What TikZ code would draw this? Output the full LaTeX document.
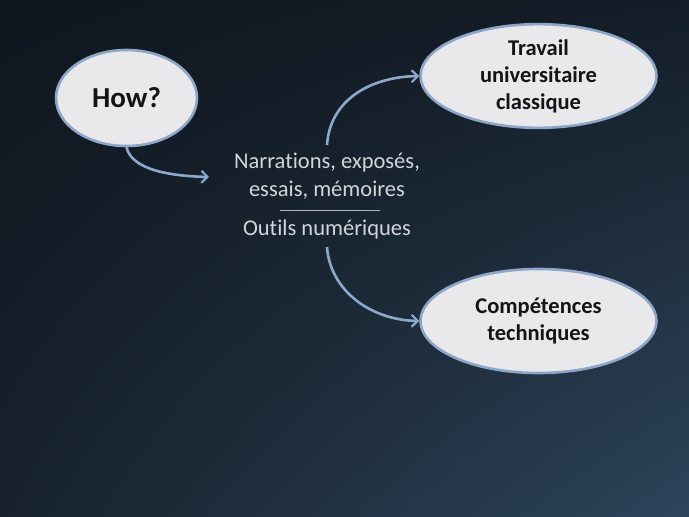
\documentclass[tikz,border=0pt]{standalone}
\usepackage{fontspec}
\setmainfont[Ligatures={NoCommon}]{Carlito}
\usetikzlibrary{arrows.meta,shapes.geometric,shadings}
\definecolor{bgUL}{HTML}{0F161E}
\definecolor{bgUR}{HTML}{141D27}
\definecolor{bgLL}{HTML}{17222D}
\definecolor{bgLR}{HTML}{2D445B}
\definecolor{ellfill}{HTML}{E9E9EB}
\definecolor{ellline}{HTML}{8DA5C6}
\definecolor{arrowc}{HTML}{8EA8CB}
\definecolor{midtext}{HTML}{D2D6DA}
\definecolor{boldtext}{HTML}{141414}
\tikzset{
  bubble/.style={ellipse, fill=ellfill, draw=ellline, line width=2.6pt, inner sep=0pt, font=\bfseries\fontsize{22.5}{27}\selectfont, text=boldtext, align=center},
  link/.style={draw=arrowc, line width=2.6pt, -{Straight Barb[length=6pt,width=12pt,line width=2.2pt]}}
}
\begin{document}
\begin{tikzpicture}[x=1pt,y=-1pt]
\useasboundingbox (0,0) rectangle (689,517);
\shade[upper left=bgUL, upper right=bgUR, lower left=bgLL, lower right=bgLR] (0,0) rectangle (689,517);
\node[bubble, minimum width=141pt, minimum height=96pt, font=\bfseries\fontsize{29}{30}\selectfont] (how) at (126.5,98) {How?};
\node[bubble, minimum width=236pt, minimum height=102pt] (trav) at (538.5,76) {Travail\\universitaire\\classique};
\node[bubble, minimum width=236pt, minimum height=104pt] (comp) at (538.5,321) {Compétences\\techniques};
\node[text=midtext, font=\fontsize{22.5}{28}\selectfont, align=center] (mid1) at (327,176) {Narrations, exposés,\\essais, mémoires};
\node[text=midtext, font=\fontsize{22.5}{28}\selectfont] (mid2) at (327,229) {Outils numériques};
\coordinate (sepL) at (280,210);
\coordinate (sepR) at (380,210);
\draw[midtext!85!black, line width=0.8pt] (sepL) -- (sepR);
\coordinate (inEnd) at (209,177);
\coordinate (upStart) at (327,145);
\coordinate (downStart) at (327,247);
\path[link] (how.south) .. controls (132,170) and (170,176) .. (inEnd);
\path[link] (upStart) .. controls (330,100) and (370,77) .. (trav.west);
\path[link] (downStart) .. controls (330,290) and (370,320) .. (comp.west);
\end{tikzpicture}
\end{document}
